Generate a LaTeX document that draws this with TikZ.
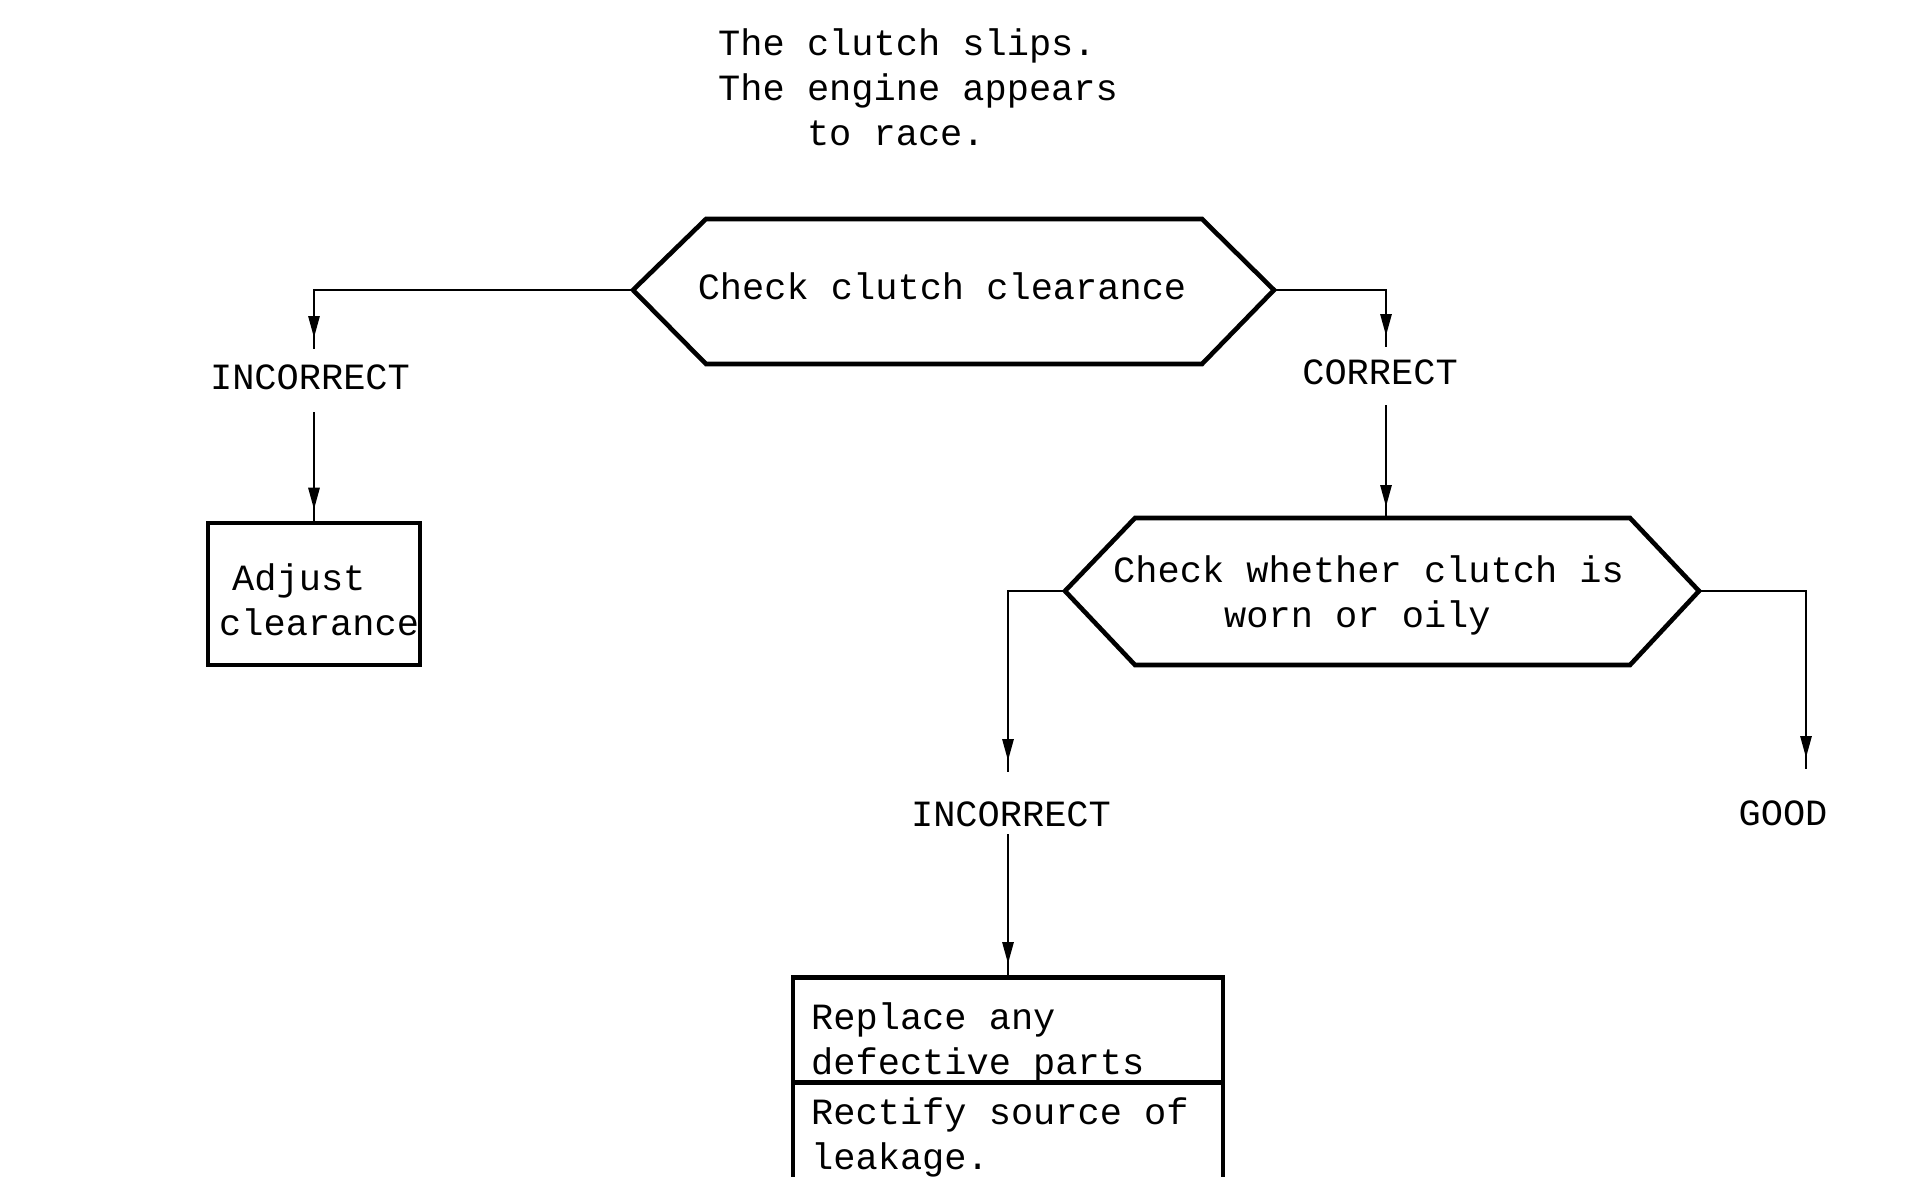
\documentclass[tikz,border=0pt]{standalone}
\usepackage{fontspec}
\setmonofont{Liberation Mono}
\usetikzlibrary{arrows.meta,decorations.markings}
\begin{document}
\begin{tikzpicture}[x=1pt,y=-1pt,
  txt/.style={font=\ttfamily\fontsize{37}{45}\selectfont, inner sep=0pt},
  outline/.style={line width=4.6pt, line join=miter},
  boxnode/.style={draw, line width=4.6pt, inner sep=0pt},
  conn/.style={line width=2.9pt, postaction={decorate},
    decoration={markings, mark=at position -11pt with {\arrow{Triangle[width=11pt,length=22pt]}}}},
]
\useasboundingbox (0,0) rectangle (1908,1177);
\clip (0,0) rectangle (1908,1177);

% heading
\node[txt, align=left, anchor=north west] (title) at (718,28)
  {The clutch slips.\\The engine appears\\\hspace*{2.4em}to race.};

% first decision
\coordinate (h1w) at (633,290);
\coordinate (h1e) at (1274,290);
\coordinate (h1nw) at (706,219);
\coordinate (h1ne) at (1202,219);
\coordinate (h1se) at (1202,364);
\coordinate (h1sw) at (706,364);
\draw[outline] (h1w) -- (h1nw) -- (h1ne) -- (h1e) -- (h1se) -- (h1sw) -- cycle;
\node[txt] (h1) at (942,286) {Check clutch clearance};

% second decision
\coordinate (h2w) at (1065,591);
\coordinate (h2e) at (1699,591);
\coordinate (h2n) at (1386,518);
\coordinate (h2nw) at (1135,518);
\coordinate (h2ne) at (1630,518);
\coordinate (h2se) at (1630,665);
\coordinate (h2sw) at (1135,665);
\draw[outline] (h2w) -- (h2nw) -- (h2ne) -- (h2e) -- (h2se) -- (h2sw) -- cycle;
\node[txt, align=left, anchor=west] (h2) at (1113,595)
  {Check whether clutch is\\\hspace*{3em}worn or oily};

% outcome labels
\node[txt] (inc1) at (310,377) {INCORRECT};
\node[txt] (cor) at (1380,372) {CORRECT};
\node[txt] (inc2) at (1011,814) {INCORRECT};
\node[txt] (good) at (1783,813) {GOOD};

% action boxes
\node[boxnode, minimum width=212, minimum height=142] (adj) at (314,594) {};
\node[txt, align=left, anchor=west] (adjtxt) at (219,600)
  {\hspace*{13pt}Adjust\\clearance};
\node[boxnode, minimum width=430, minimum height=105, anchor=north] (rep) at (1008,975) {};
\node[txt, align=left, anchor=west] (reptxt) at (811,1042)
  {Replace any\\defective parts};
\node[boxnode, minimum width=430, minimum height=110, anchor=north] (rect) at (1008,1080) {};
\node[txt, align=left, anchor=west] (recttxt) at (811,1137)
  {Rectify source of\\leakage.};

% line ends beside the labels
\coordinate (e1) at (314,349);
\coordinate (s1) at (314,412);
\coordinate (e2) at (1386,347);
\coordinate (s2) at (1386,405);
\coordinate (e3) at (1008,772);
\coordinate (s3) at (1008,834);
\coordinate (e4) at (1806,769);

% connectors
\draw[conn] (h1w) -| (e1);
\draw[conn] (s1) -- (adj.north);
\draw[conn] (h1e) -| (e2);
\draw[conn] (s2) -- (h2n);
\draw[conn] (h2w) -| (e3);
\draw[conn] (s3) -- (rep.north);
\draw[conn] (h2e) -| (e4);
\end{tikzpicture}
\end{document}
